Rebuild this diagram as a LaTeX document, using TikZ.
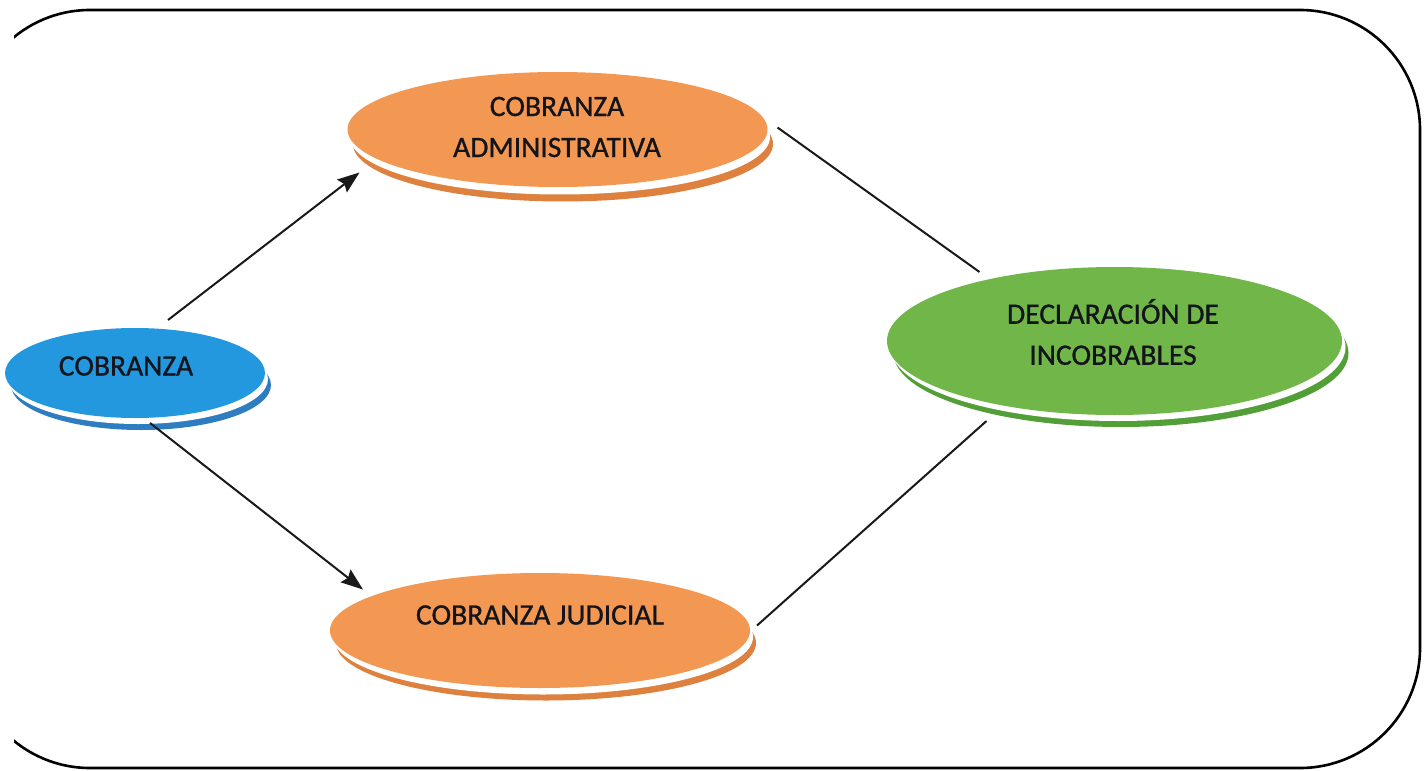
\documentclass[tikz,border=0pt]{standalone}
\usepackage{fontspec}
\setmainfont{Carlito}
\newfontfamily\lblfont[FakeBold=0.9]{Carlito}
\usetikzlibrary{arrows.meta,shapes.geometric}
\definecolor{cobBlue}{RGB}{35,152,222}
\definecolor{cobBlueSh}{RGB}{45,125,192}
\definecolor{ornMain}{RGB}{243,152,82}
\definecolor{ornSh}{RGB}{222,128,62}
\definecolor{grnMain}{RGB}{112,182,72}
\definecolor{grnSh}{RGB}{82,158,55}
\definecolor{txt}{RGB}{20,20,28}
\tikzset{
  ell/.style={ellipse, inner sep=0pt, outer sep=0pt, draw=none},
  lbl/.style={font=\lblfont\fontsize{14.8}{20.5}\selectfont, text=txt, align=center, inner sep=0pt},
  conn/.style={line width=1pt, draw=black!90},
  arr/.style={conn, -{Stealth[length=11pt,width=8pt,inset=1.5pt]}},
  frame/.style={line width=1.3pt, rounded corners=60pt}
}
\begin{document}
\begin{tikzpicture}[x=0.5pt,y=-0.5pt]
\useasboundingbox (0,0) rectangle (1427,770);
% frame (left side lies outside the scanned page)
\begin{scope}
\clip (14,0) rectangle (1427,770);
\draw[frame] (-30,10) rectangle (1420,768);
\end{scope}

% COBRANZA (blue)
\fill[cobBlueSh] (141,385) ellipse [x radius=130, y radius=45];
\fill[white] (138,379) ellipse [x radius=130, y radius=45];
\node[ell, fill=cobBlue, minimum width=130pt, minimum height=45pt] (cob) at (135,373) {};
\node[lbl] (cobt) at (126,366) {COBRANZA};

% COBRANZA ADMINISTRATIVA
\fill[ornSh] (563,144) ellipse [x radius=210, y radius=57.5];
\fill[white] (560,137) ellipse [x radius=210, y radius=57.5];
\node[ell, fill=ornMain, minimum width=210pt, minimum height=57.5pt] (adm) at (557.5,129.5) {};
\node[lbl] (admt) at (557,127) {COBRANZA\\ADMINISTRATIVA};

% COBRANZA JUDICIAL
\fill[ornSh] (546,643) ellipse [x radius=210, y radius=57.5];
\fill[white] (543,637) ellipse [x radius=210, y radius=57.5];
\node[ell, fill=ornMain, minimum width=210pt, minimum height=57.5pt] (jud) at (540,630.5) {};
\node[lbl] (judt) at (540,615) {COBRANZA JUDICIAL};

% DECLARACION DE INCOBRABLES
\fill[grnSh] (1121,353) ellipse [x radius=227.5, y radius=74];
\fill[white] (1118,347) ellipse [x radius=227.5, y radius=74];
\node[ell, fill=grnMain, minimum width=227.5pt, minimum height=74pt] (dec) at (1114.5,341) {};
\node[lbl] (dect) at (1113,332) {DECLARACIÓN DE\\INCOBRABLES};

% connectors
\draw[arr] ([shift={(33,-53)}]cob.center) -- ([shift={(-198,43)}]adm.center);
\draw[arr] ([shift={(15,50)}]cob.center) -- ([shift={(-177,-41)}]jud.center);
\draw[conn] ([shift={(220,-2)}]adm.center) -- ([shift={(-135,-69)}]dec.center);
\draw[conn] ([shift={(217,-5)}]jud.center) -- ([shift={(-128,80)}]dec.center);
\end{tikzpicture}
\end{document}
